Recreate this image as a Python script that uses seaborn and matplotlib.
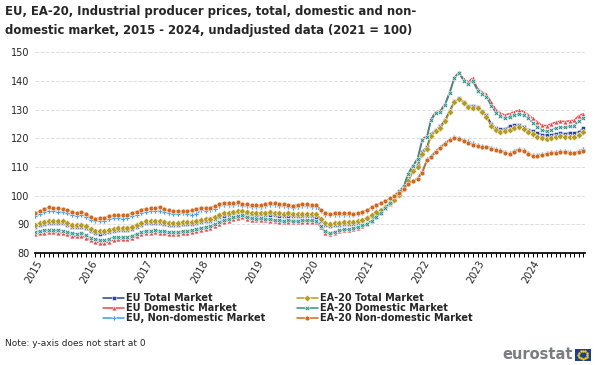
import numpy as np
import pandas as pd
import matplotlib
matplotlib.use("Agg")
import matplotlib.pyplot as plt
import matplotlib.dates as mdates
import seaborn as sns

# monthly index values, Jan 2015 - Dec 2024 (2021 = 100)
months = pd.date_range("2015-01-01", periods=120, freq="MS")

eu_total = [
    89.2, 89.7, 90.2, 90.5, 90.4, 90.3, 90.3, 89.8, 89.2, 89.0, 89.2, 88.6,
    87.5, 86.8, 86.7, 86.8, 87.3, 87.8, 87.9, 87.9, 88.0, 88.5, 89.2, 89.9,
    90.3, 90.4, 90.5, 90.5, 90.1, 89.8, 89.7, 89.8, 90.0, 90.0, 90.2, 90.5,
    90.8, 91.0, 91.2, 91.8, 92.6, 93.0, 93.3, 93.5, 93.9, 93.7, 93.4, 93.1,
    93.0, 93.2, 93.3, 93.4, 93.2, 93.0, 92.9, 93.0, 92.8, 92.8, 92.9, 92.9,
    92.9, 92.7, 91.3, 89.6, 89.3, 89.6, 89.9, 90.1, 90.1, 90.2, 90.5, 91.0,
    91.8, 92.9, 93.8, 94.8, 95.8, 97.0, 98.4, 100.2, 102.3, 105.5, 108.9, 110.6,
    115.3, 117.0, 121.5, 123.0, 124.2, 126.4, 129.5, 132.9, 134.0, 132.7, 131.4, 131.2,
    131.0, 129.6, 128.0, 125.1, 123.6, 123.1, 123.3, 124.1, 124.5, 124.6, 123.9, 123.0,
    122.4, 121.8, 121.3, 121.1, 121.2, 121.6, 121.8, 121.6, 121.8, 121.9, 122.2, 123.6,
]
eu_domestic = [
    86.5, 86.8, 87.1, 87.3, 87.2, 87.1, 87.0, 86.5, 85.9, 85.8, 86.0, 85.3,
    84.4, 83.8, 83.6, 83.5, 83.9, 84.5, 84.7, 84.7, 84.7, 85.1, 85.8, 86.5,
    87.0, 87.1, 87.2, 87.1, 86.8, 86.6, 86.6, 86.7, 86.9, 87.0, 87.3, 87.5,
    88.1, 88.4, 88.8, 89.4, 90.2, 90.8, 91.3, 91.8, 92.2, 92.5, 92.0, 91.5,
    91.4, 91.6, 91.5, 91.3, 91.1, 90.9, 90.8, 90.9, 90.8, 90.8, 90.9, 90.9,
    90.9, 90.8, 89.0, 87.1, 86.7, 87.1, 87.6, 87.9, 88.1, 88.3, 88.8, 89.3,
    90.0, 91.0, 92.4, 93.9, 95.5, 97.2, 99.9, 101.5, 103.3, 107.9, 110.6, 113.0,
    119.8, 120.8, 127.0, 129.2, 129.8, 132.1, 136.2, 141.3, 143.1, 140.6, 139.7, 141.0,
    137.3, 136.1, 135.3, 132.6, 130.0, 128.7, 128.1, 128.6, 129.2, 129.7, 129.3, 128.2,
    126.9, 125.7, 124.5, 124.4, 125.0, 125.6, 126.0, 125.8, 126.1, 126.3, 127.9, 128.6,
]
eu_nondomestic = [
    92.8, 93.5, 94.2, 94.6, 94.6, 94.4, 94.3, 93.8, 93.2, 92.9, 93.3, 92.7,
    91.6, 91.1, 91.1, 91.3, 91.8, 92.1, 92.1, 92.0, 92.2, 92.8, 93.3, 94.0,
    94.4, 94.5, 94.6, 94.8, 94.3, 93.8, 93.6, 93.6, 93.8, 93.5, 93.4, 93.7,
    94.9, 94.8, 94.9, 95.4, 96.3, 96.6, 96.7, 96.8, 96.9, 96.5, 96.2, 95.9,
    95.9, 96.1, 96.3, 96.8, 96.6, 96.2, 96.2, 96.1, 95.8, 96.1, 96.2, 96.2,
    96.1, 96.0, 94.6, 93.4, 93.1, 93.2, 93.4, 93.4, 93.3, 93.3, 93.5, 94.0,
    94.7, 95.7, 96.5, 97.3, 98.1, 98.9, 99.4, 100.6, 102.4, 104.2, 105.2, 106.1,
    108.6, 112.6, 113.8, 115.6, 117.0, 118.4, 119.6, 120.4, 120.0, 119.5, 118.9, 118.3,
    117.5, 117.3, 117.1, 116.7, 116.3, 115.9, 115.2, 114.8, 115.6, 116.3, 115.9, 114.9,
    114.0, 114.2, 114.5, 114.7, 115.1, 115.3, 115.4, 115.6, 115.3, 115.0, 115.6, 116.4,
]
ea_total = [
    89.9, 90.4, 90.9, 91.2, 91.1, 91.0, 91.0, 90.5, 89.9, 89.7, 89.9, 89.3,
    88.3, 87.6, 87.5, 87.6, 88.0, 88.5, 88.6, 88.7, 88.8, 89.2, 89.9, 90.6,
    91.1, 91.1, 91.2, 91.2, 90.8, 90.5, 90.4, 90.5, 90.7, 90.7, 90.9, 91.2,
    91.6, 91.8, 92.0, 92.6, 93.4, 93.8, 94.1, 94.3, 94.6, 94.5, 94.2, 93.9,
    93.9, 94.0, 94.1, 94.2, 94.0, 93.8, 93.7, 93.8, 93.6, 93.6, 93.7, 93.7,
    93.7, 93.5, 92.0, 90.3, 90.0, 90.3, 90.6, 90.8, 90.8, 90.9, 91.2, 91.6,
    92.3, 93.3, 94.2, 95.1, 96.1, 97.3, 98.6, 100.3, 102.3, 105.2, 108.4, 110.0,
    114.6, 116.3, 120.9, 122.4, 123.6, 125.9, 129.0, 132.5, 133.7, 132.3, 131.0, 130.5,
    130.4, 129.0, 127.4, 124.2, 122.8, 122.3, 122.5, 123.0, 123.6, 123.8, 123.1, 122.2,
    121.4, 120.6, 120.2, 119.9, 120.0, 120.4, 120.7, 120.6, 120.5, 120.4, 121.0, 122.2,
]
ea_domestic = [
    87.3, 87.6, 87.9, 88.1, 88.0, 87.9, 87.8, 87.4, 86.8, 86.7, 86.9, 86.2,
    85.3, 84.7, 84.5, 84.4, 84.8, 85.4, 85.6, 85.6, 85.6, 86.0, 86.6, 87.3,
    87.8, 87.8, 87.9, 87.8, 87.5, 87.3, 87.3, 87.4, 87.6, 87.7, 88.0, 88.2,
    88.8, 89.1, 89.4, 90.0, 90.8, 91.4, 91.9, 92.4, 92.8, 93.1, 92.6, 92.1,
    92.0, 92.1, 92.0, 91.8, 91.6, 91.4, 91.3, 91.4, 91.3, 91.3, 91.4, 91.4,
    91.4, 91.3, 89.5, 87.5, 87.0, 87.4, 87.9, 88.2, 88.4, 88.6, 89.1, 89.6,
    90.2, 91.2, 92.6, 94.0, 95.6, 97.3, 100.0, 101.5, 103.2, 107.7, 110.3, 112.6,
    119.3, 120.3, 126.4, 128.7, 129.3, 131.6, 135.7, 140.9, 142.8, 139.9, 138.9, 139.9,
    136.6, 135.3, 134.3, 131.4, 128.9, 127.6, 127.0, 127.4, 128.0, 128.5, 128.1, 127.0,
    125.4, 124.0, 122.8, 122.4, 122.9, 123.5, 124.0, 123.8, 124.1, 124.4, 126.0, 127.0,
]
ea_nondomestic = [
    93.9, 94.5, 95.3, 95.9, 95.7, 95.5, 95.4, 94.9, 94.2, 93.8, 94.3, 93.6,
    92.6, 92.0, 92.1, 92.2, 92.8, 93.1, 93.1, 93.1, 93.2, 93.9, 94.4, 95.1,
    95.4, 95.5, 95.6, 96.0, 95.4, 94.9, 94.7, 94.7, 94.6, 94.5, 94.9, 95.3,
    95.8, 95.7, 95.8, 96.3, 97.2, 97.4, 97.5, 97.5, 97.6, 97.2, 96.9, 96.6,
    96.6, 96.8, 97.0, 97.5, 97.3, 96.9, 96.9, 96.8, 96.5, 96.8, 96.9, 96.9,
    96.8, 96.7, 95.1, 94.0, 93.7, 93.8, 93.9, 93.9, 93.8, 93.7, 93.9, 94.3,
    94.9, 95.9, 96.6, 97.4, 98.0, 99.0, 99.9, 100.8, 102.4, 104.1, 105.0, 105.8,
    107.8, 112.3, 113.4, 115.2, 116.7, 118.1, 119.3, 120.2, 119.8, 119.2, 118.4, 117.6,
    117.2, 117.0, 116.8, 116.4, 116.0, 115.6, 114.9, 114.5, 115.3, 116.0, 115.6, 114.6,
    113.7, 113.9, 114.2, 114.4, 114.8, 115.0, 115.1, 115.3, 115.0, 114.7, 115.2, 115.7,
]

series_names = ["EU Total Market", "EU Domestic Market", "EU, Non-domestic Market",
                "EA-20 Total Market", "EA-20 Domestic Market", "EA-20 Non-domestic Market"]
series_values = [eu_total, eu_domestic, eu_nondomestic, ea_total, ea_domestic, ea_nondomestic]
colors = ["#2A3F9E", "#E8474C", "#3D9BEB", "#B59A22", "#2C918A", "#D2661C"]
marker_list = ["s", "^", "P", "D", "X", "o"]

df = pd.concat([pd.DataFrame({"month": months, "value": v, "series": n})
                for n, v in zip(series_names, series_values)], ignore_index=True)

sns.set_theme(style="white")
plt.rcParams['font.family'] = ['DejaVu Sans']

fig = plt.figure(figsize=(6, 3.65), dpi=100)
ax = fig.add_axes([0.058, 0.307, 0.917, 0.55])

sns.lineplot(data=df, x="month", y="value", hue="series", style="series",
             hue_order=series_names, style_order=series_names,
             palette=dict(zip(series_names, colors)),
             markers=dict(zip(series_names, marker_list)), dashes=False,
             markersize=3.5, markeredgewidth=0.4, linewidth=1.1, ax=ax, legend=True)

ax.set_ylim(80, 150)
ax.set_yticks(range(80, 151, 10))
ax.set_xlim(months[0] - pd.Timedelta(days=3), months[-1] + pd.Timedelta(days=10))
ax.xaxis.set_major_locator(mdates.YearLocator())
ax.xaxis.set_major_formatter(mdates.DateFormatter("%Y"))
ax.xaxis.set_minor_locator(mdates.MonthLocator())
ax.tick_params(axis="x", which="both", direction="out", length=3, width=0.7,
               color="black", labelsize=7, pad=1, bottom=True)
ax.tick_params(axis="y", length=0, labelsize=7, pad=4)
plt.setp(ax.get_xticklabels(), rotation=60, ha="right", rotation_mode="anchor")
ax.grid(axis="y", color="#dddddd", linewidth=0.7, linestyle="--")
ax.set_axisbelow(True)
for s in ["top", "right", "left"]:
    ax.spines[s].set_visible(False)
ax.spines["bottom"].set_color("black")
ax.set_xlabel("")
ax.set_ylabel("")

handles, labels = ax.get_legend_handles_labels()
ax.legend_.remove()
leg = fig.legend(handles, labels,
                 loc="upper left", bbox_to_anchor=(0.165, 0.208), ncol=2,
                 frameon=False, fontsize=7, handlelength=2.2, handletextpad=0.2,
                 columnspacing=3.2, labelspacing=0.02, borderaxespad=0)
for t in leg.get_texts():
    t.set_fontweight("bold")

fig.text(0.008, 0.985,
         "EU, EA-20, Industrial producer prices, total, domestic and non-\n"
         "domestic market, 2015 - 2024, undadjusted data (2021 = 100)",
         ha="left", va="top", fontsize=8.4, fontweight="bold", linespacing=1.55)
fig.text(0.008, 0.06, "Note: y-axis does not start at 0", ha="left", va="center", fontsize=6.5)

fig.text(0.955, 0.028, "eurostat", ha="right", va="center", fontsize=10.5,
         fontweight="bold", color="#7a7d82")
flag = fig.add_axes([0.958, 0.012, 0.027, 0.032])
flag.set_facecolor("#1c3f94")
ang = np.arange(12) * np.pi / 6
flag.scatter(0.5 + 0.28 * np.cos(ang), 0.5 + 0.33 * np.sin(ang), s=0.6, color="#f5d300")
flag.set_xlim(0, 1)
flag.set_ylim(0, 1)
flag.set_xticks([])
flag.set_yticks([])
for s in flag.spines.values():
    s.set_visible(False)

fig.savefig("out.png", dpi=100)
